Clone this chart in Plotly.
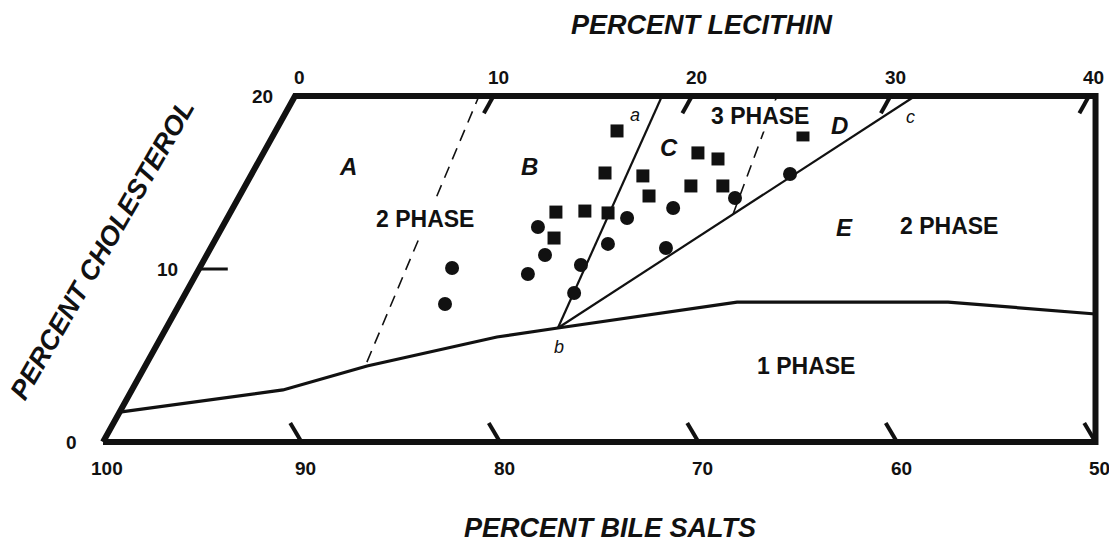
import plotly.graph_objects as go

# ---------------- data ----------------
# skew of the ternary-like grid: horizontal shift per % cholesterol (in % lecithin units)
SKEW = 0.4836

lecithin_ticks = [10, 20, 30, 40]
lecithin_tick_labels = ["0", "10", "20", "30", "40"]
lecithin_label_values = [0, 10, 20, 30, 40]
bile_salt_ticks = [90, 80, 70, 60, 50]
bile_salt_label_values = [100, 90, 80, 70, 60, 50]
cholesterol_ticks = [10]
cholesterol_label_values = [0, 10, 20]

# frame corners (percent lecithin, percent cholesterol)
frame_lecithin = [0, 50, 40.33, 0, 0]
frame_cholesterol = [0, 0, 20, 20, 0]

# 1-phase / 2-phase boundary
one_phase_lecithin = [0, 7.61, 11.18, 16.91, 19.73, 28.03, 38.66, 46.42]
one_phase_cholesterol = [1.73, 3.01, 4.39, 6.07, 6.59, 8.09, 8.09, 7.40]

# tie lines b-a and b-c
tie_a_lecithin = [19.73, 18.49]
tie_a_cholesterol = [6.59, 20.0]
tie_c_lecithin = [19.73, 31.24]
tie_c_cholesterol = [6.59, 20.0]

# dashed boundaries
dash_ab_lecithin = [11.06, 9.27]
dash_ab_cholesterol = [4.62, 20.0]
dash_cd_lecithin = [25.37, 24.28]
dash_cd_cholesterol = [13.18, 20.0]

# observations
circle_lecithin = [12.72, 13.37, 15.90, 17.04, 16.71, 19.13, 19.57, 19.90,
                   20.14, 22.18, 22.94, 25.02, 27.12]
circle_cholesterol = [10.06, 7.98, 12.43, 10.81, 9.71, 10.23, 8.61, 11.45,
                      12.95, 13.53, 11.21, 14.10, 15.49]
square_lecithin = [17.20, 17.77, 19.76, 20.63, 21.89, 23.07, 22.46, 24.07,
                   26.68, 16.39, 17.82, 19.04, 17.02]
square_cholesterol = [17.98, 15.55, 15.38, 14.22, 16.71, 16.36, 14.80, 14.80,
                      17.75, 13.29, 13.35, 13.24, 11.79]

# region labels: (text, lecithin, cholesterol)
region_labels = [("A", 4.68, 15.84), ("B", 13.85, 15.84), ("C", 20.32, 16.94),
                 ("D", 28.32, 18.21), ("E", 31.35, 12.37)]
phase_labels = [("2 PHASE", 10.01, 12.83), ("3 PHASE", 24.01, 18.79),
                ("2 PHASE", 36.61, 12.43), ("1 PHASE", 33.32, 4.34)]
point_labels = [("a", 17.66, 18.90), ("b", 20.31, 5.49), ("c", 31.57, 18.79)]

# ---------------- helpers ----------------
def gx(lec, chol):
    return [None if l is None else l + SKEW * c for l, c in zip(lec, chol)]

FONT = "Liberation Sans, Arial, Helvetica, sans-serif"
INK = "#111111"

fig = go.Figure()

def add_line(lec, chol, width, dash="solid"):
    fig.add_trace(go.Scatter(x=gx(lec, chol), y=chol, mode="lines",
                             line=dict(color=INK, width=width, dash=dash),
                             hoverinfo="skip", showlegend=False))

# frame
add_line(frame_lecithin, frame_cholesterol, 6)

# ticks
tk_l, tk_c = [], []
for L in lecithin_ticks:                       # top edge, along constant lecithin
    tk_l += [L, L, None]
    tk_c += [20, 19.0, None]
for B in bile_salt_ticks:                       # bottom edge, along constant bile salt
    L = 100 - B
    tk_l += [L, L - 1.1, None]
    tk_c += [0, 1.1, None]
add_line(tk_l, tk_c, 4)
lt_l, lt_c = [], []
for C in cholesterol_ticks:                     # left edge, along constant cholesterol
    lt_l += [0, 1.45, None]
    lt_c += [C, C, None]
add_line(lt_l, lt_c, 3)

# boundaries
add_line(one_phase_lecithin, one_phase_cholesterol, 3.2)
add_line(tie_a_lecithin, tie_a_cholesterol, 2.2)
add_line(tie_c_lecithin, tie_c_cholesterol, 2.2)
add_line(dash_ab_lecithin, dash_ab_cholesterol, 1.6, dash="12px,8px")
add_line(dash_cd_lecithin, dash_cd_cholesterol, 1.6, dash="12px,8px")

# observations
fig.add_trace(go.Scatter(x=gx(circle_lecithin, circle_cholesterol), y=circle_cholesterol,
                         mode="markers", marker=dict(symbol="circle", size=14, color=INK),
                         hoverinfo="skip", showlegend=False))
fig.add_trace(go.Scatter(x=gx(square_lecithin, square_cholesterol), y=square_cholesterol,
                         mode="markers", marker=dict(symbol="square", size=13, color=INK),
                         hoverinfo="skip", showlegend=False))

ann = []
def label(text, lec, chol, size, xs=0, ys=0, bg=None, pad=0):
    d = dict(text=text, x=lec + SKEW * chol, y=chol, xref="x", yref="y",
             showarrow=False, xanchor="center", yanchor="middle",
             xshift=xs, yshift=ys, font=dict(family=FONT, size=size, color=INK))
    if bg:
        d.update(bgcolor=bg, borderpad=pad)
    ann.append(d)

# tick labels
for L, t in zip(lecithin_label_values, lecithin_tick_labels):
    label(f"<b>{t}</b>", L, 20, 19, xs=5, ys=19)
for B in bile_salt_label_values:
    label(f"<b>{B}</b>", 100 - B, 0, 19, xs=4, ys=-26)
for C in cholesterol_label_values:
    label(f"<b>{C}</b>", 0, C, 19, xs=-32, ys=0)

for t, l, c in region_labels:
    label(f"<b><i>{t}</i></b>", l, c, 24, ys=1)
for t, l, c in phase_labels:
    bg = "white" if t != "1 PHASE" else None
    pad = 5 if l < 15 else 2
    label(f"<b>{t}</b>", l, c, 23, ys=1, bg=bg, pad=pad)
for t, l, c in point_labels:
    label(f"<i>{t}</i>", l, c, 18)

# axis titles
ann.append(dict(text="<b><i>PERCENT LECITHIN</i></b>", x=0.633, y=0.954,
                xref="paper", yref="paper", showarrow=False, xanchor="center",
                yanchor="middle", font=dict(family=FONT, size=27, color=INK)))
ann.append(dict(text="<b><i>PERCENT BILE SALTS</i></b>", x=0.550, y=0.026,
                xref="paper", yref="paper", showarrow=False, xanchor="center",
                yanchor="middle", font=dict(family=FONT, size=27, color=INK)))
ann.append(dict(text="<b><i>PERCENT CHOLESTEROL</i></b>", x=0.092, y=0.539,
                xref="paper", yref="paper", showarrow=False, xanchor="center",
                yanchor="middle", textangle=-60,
                font=dict(family=FONT, size=27, color=INK)))

fig.update_layout(
    width=1109, height=542, margin=dict(l=0, r=0, t=0, b=0, pad=0),
    paper_bgcolor="white", plot_bgcolor="white", showlegend=False,
    xaxis=dict(range=[-5.189, 50.680], visible=False, fixedrange=True),
    yaxis=dict(range=[-5.780, 25.549], visible=False, fixedrange=True),
    annotations=ann,
)

fig.write_html("out.html")
